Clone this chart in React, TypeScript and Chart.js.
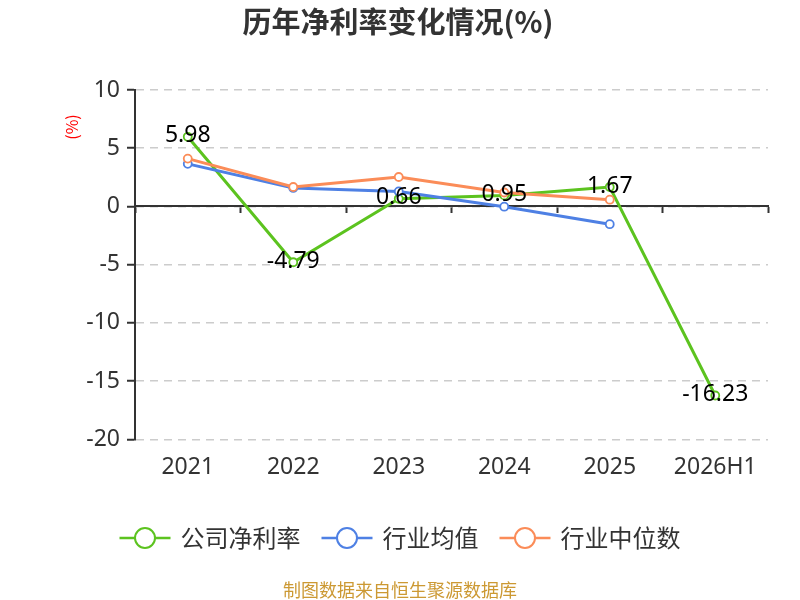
import React, { useEffect, useRef } from "react";
import { Chart, registerables } from "chart.js";

Chart.register(...registerables);

const categories = ["2021", "2022", "2023", "2024", "2025", "2026H1"];
const companyMargin = [5.98, -4.79, 0.66, 0.95, 1.67, -16.23];
const industryAvg = [3.66, 1.59, 1.29, -0.02, -1.52, null];
const industryMedian = [4.11, 1.67, 2.53, 1.2, 0.58, null];
const seriesNames = ["公司净利率", "行业均值", "行业中位数"];
const seriesColors = ["#5cc31f", "#4e80e4", "#fb8c58"];
const yMin = -20;
const yMax = 10;
const yStep = 5;
const titleText = "历年净利率变化情况(%)";
const yAxisName = "(%)";
const footerText = "制图数据来自恒生聚源数据库";

const FONT = '"Noto Sans CJK SC", "Noto Sans", sans-serif';
const NUMFONT = '"Noto Sans", "Open Sans", sans-serif';

const decorPlugin = {
  id: "decor",
  afterDatasetsDraw(chart: any) {
    const { ctx } = chart;
    const meta = chart.getDatasetMeta(0);
    ctx.save();
    ctx.font = `23px ${NUMFONT}`;
    ctx.fillStyle = "#000";
    ctx.textAlign = "center";
    ctx.textBaseline = "middle";
    meta.data.forEach((pt: any, i: number) => {
      const v = companyMargin[i];
      if (v === null || v === undefined) return;
      ctx.fillText(v.toFixed(2), pt.x, pt.y - 1);
    });
    ctx.restore();
  },
  afterDraw(chart: any) {
    const { ctx, chartArea, width } = chart;
    ctx.save();
    // title
    ctx.font = `bold 29px ${FONT}`;
    ctx.fillStyle = "#333";
    ctx.textAlign = "center";
    ctx.textBaseline = "middle";
    ctx.fillText(titleText, width / 2 - 2, 22);

    // y axis name
    ctx.save();
    ctx.translate(chartArea.left - 63, chartArea.top + 37);
    ctx.rotate(-Math.PI / 2);
    ctx.font = `16px ${FONT}`;
    ctx.fillStyle = "#ff0000";
    ctx.textAlign = "center";
    ctx.textBaseline = "middle";
    ctx.fillText(yAxisName, 0, 0);
    ctx.restore();

    // legend (centered)
    const ly = 538;
    const lineLen = 51;
    const textGap = 10;
    const itemGap = 21;
    ctx.font = `24px ${FONT}`;
    ctx.textBaseline = "middle";
    ctx.textAlign = "left";
    const widths = seriesNames.map((n) => ctx.measureText(n).width);
    const total =
      widths.reduce((a, w) => a + lineLen + textGap + w, 0) + itemGap * (seriesNames.length - 1);
    let lx = width / 2 - total / 2;
    seriesNames.forEach((name, i) => {
      const c = seriesColors[i];
      ctx.strokeStyle = c;
      ctx.lineWidth = 2.5;
      ctx.beginPath();
      ctx.moveTo(lx, ly);
      ctx.lineTo(lx + lineLen, ly);
      ctx.stroke();
      ctx.beginPath();
      ctx.arc(lx + lineLen / 2, ly, 10, 0, Math.PI * 2);
      ctx.fillStyle = "#fff";
      ctx.fill();
      ctx.lineWidth = 2;
      ctx.stroke();
      ctx.fillStyle = "#333";
      ctx.fillText(name, lx + lineLen + textGap, ly);
      lx = lx + lineLen + textGap + widths[i] + itemGap;
    });

    // footer
    ctx.font = `18px ${FONT}`;
    ctx.fillStyle = "#cc9933";
    ctx.textAlign = "center";
    ctx.fillText(footerText, width / 2, 590);
    ctx.restore();
  },
};

export default function App() {
  const ref = useRef<HTMLCanvasElement | null>(null);

  useEffect(() => {
    document.body.style.margin = "0";
    const canvas = ref.current;
    if (!canvas) return;
    const mk = (data: (number | null)[], i: number, order: number) => ({
      label: seriesNames[i],
      data,
      borderColor: seriesColors[i],
      backgroundColor: "#fff",
      pointBackgroundColor: "#fff",
      pointBorderColor: seriesColors[i],
      pointBorderWidth: 1.8,
      pointRadius: 4,
      borderWidth: 3,
      tension: 0,
      spanGaps: false,
      order,
    });
    const chart = new Chart(canvas, {
      type: "line",
      data: {
        labels: categories,
        datasets: [
          mk(companyMargin, 0, 3),
          mk(industryAvg, 1, 2),
          mk(industryMedian, 2, 1),
        ],
      },
      plugins: [decorPlugin],
      options: {
        animation: false,
        responsive: false,
        devicePixelRatio: 1,
        layout: { padding: { left: 8, right: 32, top: 90, bottom: 105 } },
        plugins: {
          legend: { display: false },
          title: { display: false },
          tooltip: { enabled: false },
        },
        scales: {
          x: {
            type: "category",
            position: "bottom",
            offset: true,
            grid: { display: false, offset: true, drawTicks: false },
            border: { display: false },
            ticks: {
              color: "#333",
              font: { size: 23, family: NUMFONT },
              padding: 14,
              maxRotation: 0,
              autoSkip: false,
            },
          },
          x2: {
            type: "category",
            axis: "x",
            labels: categories,
            position: { y: 0 },
            offset: true,
            grid: {
              display: true,
              offset: true,
              drawOnChartArea: false,
              drawTicks: true,
              tickLength: 6,
              tickColor: "#333",
              tickWidth: 2,
              color: "#333",
            },
            border: { display: true, color: "#333", width: 2 },
            ticks: { display: false },
          },
          y: {
            type: "linear",
            min: yMin,
            max: yMax,
            afterFit(scale: any) {
              scale.width = 127;
            },
            ticks: {
              stepSize: yStep,
              color: "#333",
              font: { size: 23, family: NUMFONT },
              padding: 7,
            },
            grid: {
              color: "#cccccc",
              lineWidth: 1.5,
              tickColor: "#333",
              tickWidth: 2,
              tickLength: 8,
            },
            border: { display: true, color: "#333", width: 2, dash: [8, 6] },
          },
        },
      } as any,
    });
    return () => chart.destroy();
  }, []);

  return <canvas ref={ref} width={800} height={600} style={{ display: "block", width: 800, height: 600 }} />;
}
